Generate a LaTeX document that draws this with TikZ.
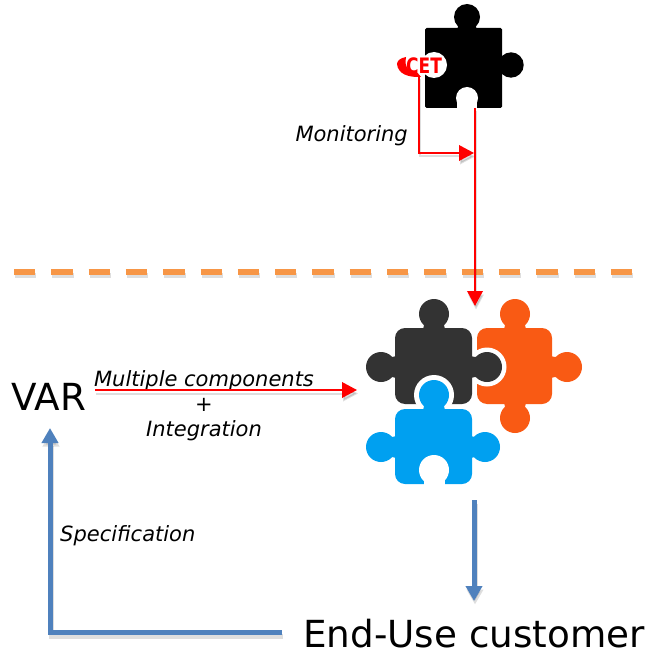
\documentclass[tikz,border=0pt]{standalone}
\usepackage{fontspec}
\setmainfont{DejaVu Sans}
\usetikzlibrary{arrows.meta,calc}
\definecolor{darkpiece}{HTML}{333333}
\definecolor{orangepiece}{HTML}{F95A14}
\definecolor{bluepiece}{HTML}{00A0F0}
\definecolor{dashorange}{HTML}{F79646}
\definecolor{flowblue}{HTML}{4F81BD}
\definecolor{flowred}{HTML}{FF0000}
\tikzset{
  redflow/.style={draw=flowred,line width=2pt,-{Triangle[length=15pt,width=15.5pt]}},
  blueflow/.style={draw=flowblue,line width=5pt,-{Triangle[length=15pt,width=16pt]}},
  softshadow/.style={draw=black,opacity=.13,transform canvas={shift={(1pt,-3.5pt)}}},
  dashline/.style={line width=5.5pt,dash pattern=on 21.3pt off 16pt},
  hugetext/.style={font=\fontsize{37.3}{40}\selectfont,inner sep=0pt,text=black},
  smalltext/.style={font=\fontsize{21}{24}\selectfont\itshape,inner sep=0pt,text=black},
  plaintext/.style={font=\fontsize{21}{24}\selectfont,inner sep=0pt,text=black},
  point/.style={inner sep=0pt,minimum size=0pt},
}
% knob: #1 colour, #2 x, #3 y of the knob centre, #4 radius, #5 distance to the body, #6 rotation
\newcommand{\knobpart}[6]{%
  \begin{scope}[shift={(#2,#3)},rotate=#6]
    \fill[#1] (0,0) circle (#4);
    \fill[#1] ({-0.68*#4},0) -- ({0.68*#4},0) -- ({0.68*#4},{#5-2})
       .. controls ({0.68*#4},{#5}) .. ({0.68*#4+3},{#5+1}) -- ({-0.68*#4-3},{#5+1})
       .. controls ({-0.68*#4},{#5}) .. ({-0.68*#4},{#5-2}) -- cycle;
  \end{scope}}
\begin{document}
\begin{tikzpicture}[x=1pt,y=-1pt]
\useasboundingbox (0,0) rectangle (650,652);
\fill[white] (0,0) rectangle (650,652);

% ---- black piece
\fill[black,rounded corners=1.5pt] (425,28) rectangle (502,108);
\knobpart{black}{467}{17}{13}{11}{0}
\knobpart{black}{511}{65}{12.7}{9}{270}
\fill[white] (467,98) circle (11);
\fill[white] (457,100) rectangle (477,109);
\fill[white] (434,65) circle (13);

% ---- orange piece
\fill[orangepiece,rounded corners=10pt] (477,328) rectangle (552,404);
\knobpart{orangepiece}{515}{314}{15}{14}{0}
\knobpart{orangepiece}{567}{367}{15}{15}{270}
\knobpart{orangepiece}{515}{418}{15}{14}{180}

% ---- dark piece
\fill[white] (487,367) circle (19.5);
\fill[darkpiece,rounded corners=10pt] (395,328) rectangle (472,404);
\knobpart{darkpiece}{434}{314}{15}{14}{0}
\knobpart{darkpiece}{381}{367}{15}{14}{90}
\knobpart{darkpiece}{487}{367}{15}{15}{270}

% ---- blue piece
\fill[white] (434,395) circle (20);
\fill[bluepiece,rounded corners=10pt] (395,409) rectangle (472,484);
\knobpart{bluepiece}{434}{395}{15}{14}{0}
\knobpart{bluepiece}{381}{447}{15}{14}{90}
\knobpart{bluepiece}{485}{447}{15}{13}{270}
\fill[white] (434,470) circle (15);
\fill[white] (423.5,475) rectangle (444.5,485);

% ---- CET logo
\fill[flowred] (397,64) .. controls (398,74) and (408,77.5) .. (421,77)
   -- (416,71) .. controls (409,71.5) and (404,68) .. (406,57) .. controls (400,58) and (397,61) .. (397,64) -- cycle;
\node[point,font=\fontsize{17}{17}\selectfont\bfseries,text=flowred,yscale=1.25] (cet) at (424,66) {CET};

% ---- dashed separator
\coordinate (sepL) at (14,272);
\coordinate (sepR) at (632.6,272);
\draw[dashline,softshadow] (sepL) -- (sepR);
\draw[dashline,draw=dashorange] (sepL) -- (sepR);

% ---- text
\node[hugetext,anchor=base] (var) at (49,410) {VAR};
\node[hugetext,anchor=base west] (customer) at (303,647) {End-Use customer};
\node[smalltext,anchor=east] (monitoring) at (408,136) {Monitoring};
\node[smalltext] (multiple) at (204,381) {Multiple components};
\node[plaintext] (plus) at (204,405) {+};
\node[smalltext] (integration) at (204,431) {Integration};
\node[smalltext,anchor=west] (specification) at (60,536) {Specification};

% ---- connector anchors
\coordinate (cetfoot) at (419,76);
\coordinate (cetturn) at (419,153);
\coordinate (blackfoot) at (475,108);
\coordinate (blackjoin) at (474,153);
\coordinate (clusterTop) at (475,306);
\coordinate (varout) at (95,390);
\coordinate (clusterIn) at (357,390);
\coordinate (clusterOut) at (474,500);
\coordinate (customerIn) at (474,601);
\coordinate (custOut) at (282,632.5);
\coordinate (corner) at (50,632.5);
\coordinate (varIn) at (50,428);

\draw[redflow,softshadow] (cetfoot) -- (cetturn) -- (blackjoin);
\draw[redflow,softshadow] (blackfoot) -- (clusterTop);
\draw[redflow,softshadow] (varout) -- (clusterIn);
\draw[blueflow,softshadow] (clusterOut) -- (customerIn);
\draw[blueflow,softshadow] (custOut) -- (corner) -- (varIn);
\draw[redflow] (cetfoot) -- (cetturn) -- (blackjoin);
\draw[redflow] (blackfoot) -- (clusterTop);
\draw[redflow] (varout) -- (clusterIn);
\draw[blueflow] (clusterOut) -- (customerIn);
\draw[blueflow] (custOut) -- (corner) -- (varIn);
\end{tikzpicture}
\end{document}
